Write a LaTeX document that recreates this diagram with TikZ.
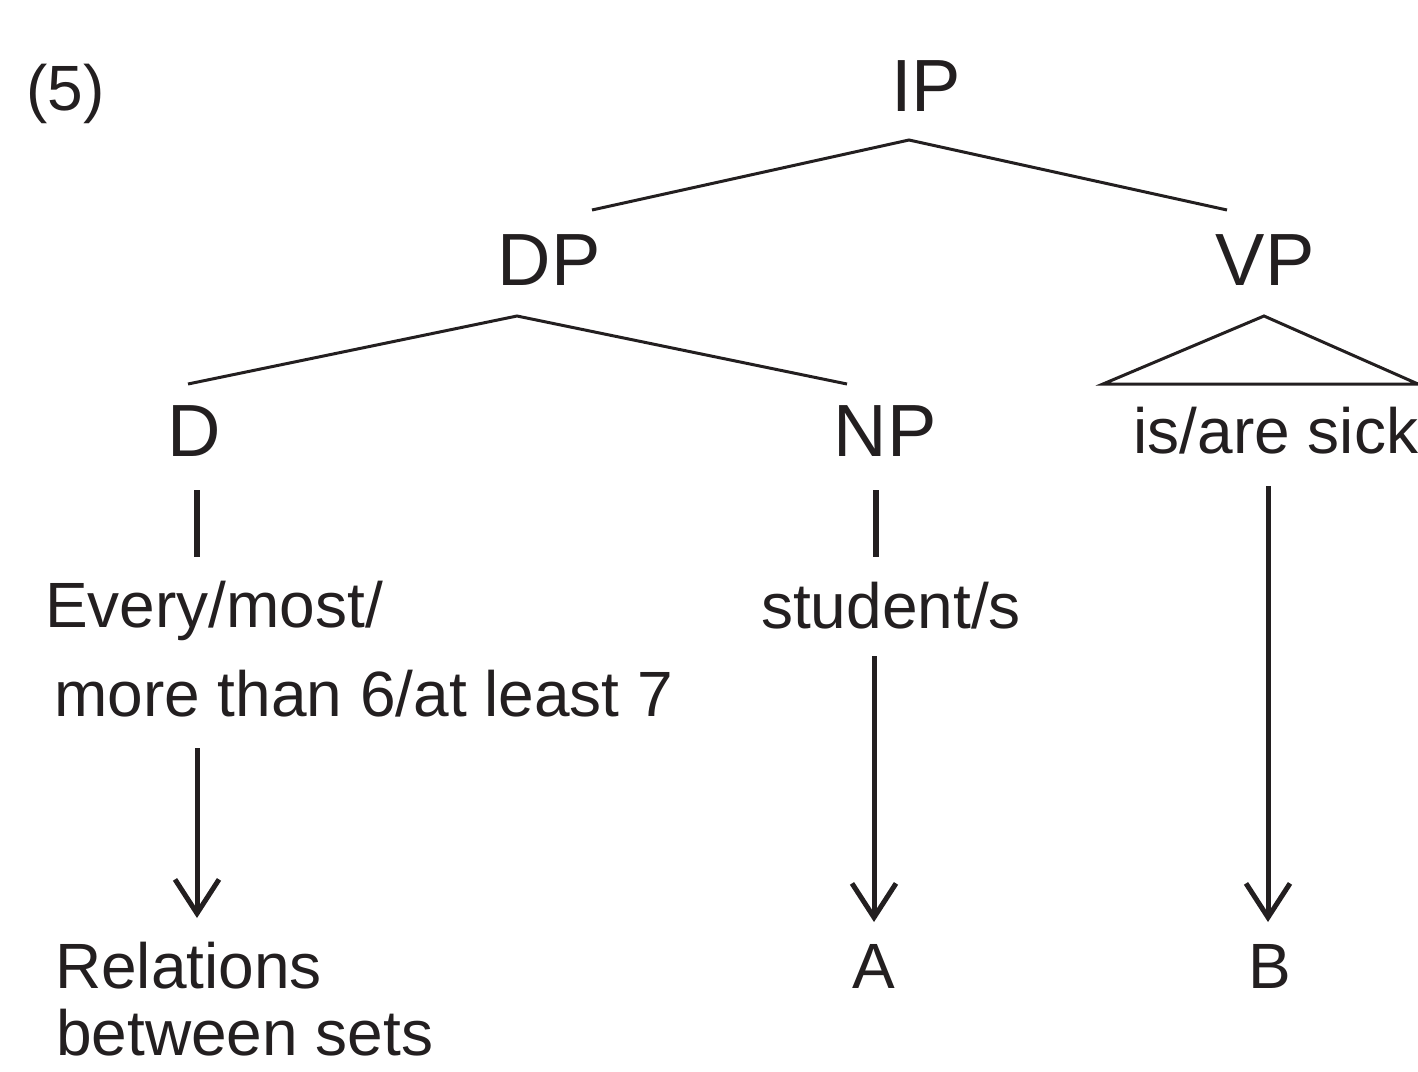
\documentclass[tikz,border=0pt]{standalone}
\usepackage{fontspec}
\setmainfont{Liberation Sans}
\usetikzlibrary{arrows.meta}
\definecolor{ink}{HTML}{231F20}
\begin{document}
\begin{tikzpicture}[x=1pt,y=-1pt,
  big/.style={inner sep=0pt,anchor=base,text=ink,font=\fontsize{74}{74}\selectfont},
  small/.style={inner sep=0pt,text=ink,font=\fontsize{64}{64}\selectfont},
  edge/.style={draw=ink,line width=3pt,line join=miter},
  bar/.style={draw=ink,line width=6pt},
  arr/.style={draw=ink,line width=5pt,-{Straight Barb[length=34pt,width=44pt]}}]
\useasboundingbox (0,0) rectangle (1418,1071);
% labels
\node[small,anchor=base west] (ex) at (26,110) {(5)};
\node[big] (IP) at (926,111) {IP};
\node[big] (DP) at (549,285) {DP};
\node[big] (VP) at (1265,285) {VP};
\node[big] (D) at (194,456) {D};
\node[big] (NP) at (885,456) {NP};
\node[small,anchor=base] (sick) at (1276,453) {is/are sick};
\node[small,anchor=base west] (every) at (45,627) {Every/most/};
\node[small,anchor=base west] (more) at (54,716) {more than 6/at least 7};
\node[small,anchor=base] (stud) at (891,628) {student/s};
\node[small,anchor=base west] (rel) at (55,988) {Relations};
\node[small,anchor=base west] (betw) at (56,1055) {between sets};
\node[small,anchor=base] (A) at (874,988) {A};
\node[small,anchor=base] (B) at (1270,988) {B};
% connector points
\coordinate (ipj) at (909,140);
\coordinate (dpl) at (592,210);
\coordinate (vpl) at (1227,210);
\coordinate (dpj) at (517,316);
\coordinate (dl) at (188,384);
\coordinate (npl) at (847,384);
\coordinate (vpj) at (1264,316);
\coordinate (tl) at (1103,384);
\coordinate (tr) at (1418,384);
\coordinate (db1) at (197,490);
\coordinate (db2) at (197,557);
\coordinate (nb1) at (876,490);
\coordinate (nb2) at (876,557);
\coordinate (da1) at (197,748);
\coordinate (da2) at (197,918);
\coordinate (na1) at (874,656);
\coordinate (na2) at (874,922);
\coordinate (va1) at (1268,486);
\coordinate (va2) at (1268,922);
% tree
\draw[edge] (dpl) -- (ipj) -- (vpl);
\draw[edge] (dl) -- (dpj) -- (npl);
\draw[edge] (tl) -- (vpj) -- (tr) -- cycle;
\draw[bar] (db1) -- (db2);
\draw[bar] (nb1) -- (nb2);
\draw[arr] (da1) -- (da2);
\draw[arr] (na1) -- (na2);
\draw[arr] (va1) -- (va2);
\end{tikzpicture}
\end{document}
